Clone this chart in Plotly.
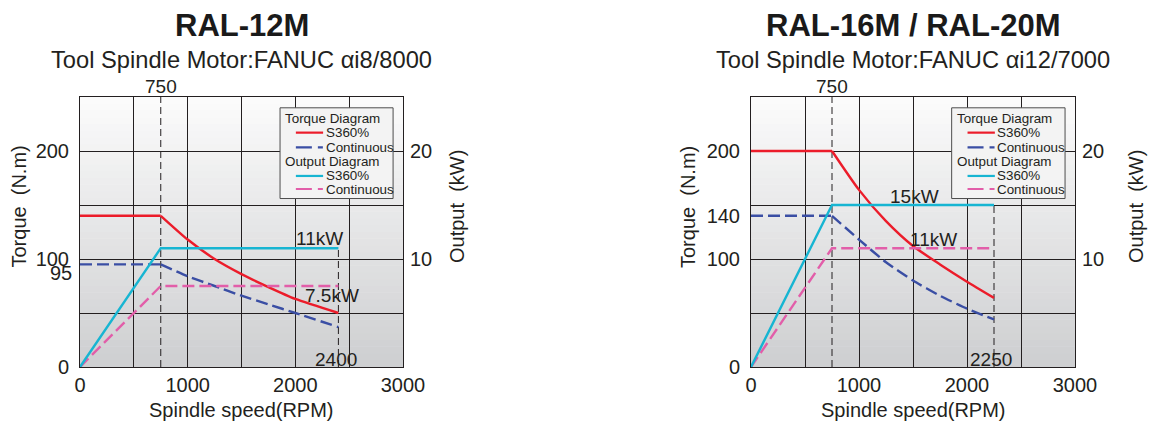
import plotly.graph_objects as go

# ---------------- data ----------------
# RAL-12M  (FANUC ai8/8000)
l_rpm_torque = [0, 750, 1000, 1250, 1500, 1750, 2000, 2400]
l_torque_s3 = [140, 140, 118, 100, 86, 74, 63, 50]
l_torque_cont = [95, 95, 84, 75, 66, 58, 50, 37]
l_rpm_out = [0, 750, 2400]
l_out_s3 = [0, 11, 11]
l_out_cont = [0, 7.5, 7.5]

# RAL-16M / RAL-20M  (FANUC ai12/7000)
r_rpm_torque = [0, 750, 1000, 1250, 1500, 1750, 2000, 2250]
r_torque_s3 = [200, 200, 164, 135, 112, 95, 79, 64]
r_torque_cont = [140, 140, 118, 97, 80, 66, 54, 44]
r_rpm_out = [0, 750, 2250]
r_out_s3 = [0, 15, 15]
r_out_cont = [0, 11, 11]

x_ticks = [0, 1000, 2000, 3000]
l_y_ticks = [0, 100, 200]
r_y_ticks = [0, 100, 140, 200]
kw_ticks = [10, 20]

titles = ["RAL-12M", "RAL-16M / RAL-20M"]
subtitles = ["Tool Spindle Motor:FANUC \u03b1i8/8000", "Tool Spindle Motor:FANUC \u03b1i12/7000"]

# ---------------- style ----------------
W, H = 1151, 423
FONT = "Arial, Liberation Sans, Helvetica, sans-serif"
TXT = "#231f20"
RED = "#ec1c2a"
BLUE = "#3a4ea4"
CYAN = "#17b5d2"
PINK = "#e25ea9"
GRID = "#231f20"
LW = 2.4
DASH = "12px,5px"
SMOOTH = 0.6

def fx(p):
    return p / W

def fy(p):
    return 1 - p / H

ydom = [fy(367), fy(97)]
xdom_l = [fx(80), fx(403)]
xdom_r = [fx(751), fx(1075)]

fig = go.Figure()

def add_chart(xa, ya, ya2, rpm_t, t_s3, t_cont, rpm_o, o_s3, o_cont):
    fig.add_trace(go.Scatter(x=rpm_t[:2], y=t_s3[:2], mode="lines", xaxis=xa, yaxis=ya,
                             line=dict(color=RED, width=LW), showlegend=False, hoverinfo="skip"))
    fig.add_trace(go.Scatter(x=rpm_t[1:], y=t_s3[1:], mode="lines", xaxis=xa, yaxis=ya,
                             line=dict(color=RED, width=LW, shape="spline", smoothing=SMOOTH),
                             showlegend=False, hoverinfo="skip"))
    fig.add_trace(go.Scatter(x=rpm_t[:2], y=t_cont[:2], mode="lines", xaxis=xa, yaxis=ya,
                             line=dict(color=BLUE, width=LW, dash=DASH), showlegend=False, hoverinfo="skip"))
    fig.add_trace(go.Scatter(x=rpm_t[1:], y=t_cont[1:], mode="lines", xaxis=xa, yaxis=ya,
                             line=dict(color=BLUE, width=LW, dash=DASH, shape="spline", smoothing=SMOOTH),
                             showlegend=False, hoverinfo="skip"))
    fig.add_trace(go.Scatter(x=rpm_o, y=o_cont, mode="lines", xaxis=xa, yaxis=ya2,
                             line=dict(color=PINK, width=LW, dash=DASH), showlegend=False, hoverinfo="skip"))
    fig.add_trace(go.Scatter(x=rpm_o, y=o_s3, mode="lines", xaxis=xa, yaxis=ya2,
                             line=dict(color=CYAN, width=LW), showlegend=False, hoverinfo="skip"))

add_chart("x", "y", "y2", l_rpm_torque, l_torque_s3, l_torque_cont, l_rpm_out, l_out_s3, l_out_cont)
add_chart("x2", "y3", "y4", r_rpm_torque, r_torque_s3, r_torque_cont, r_rpm_out, r_out_s3, r_out_cont)

axis_font = dict(family=FONT, size=20, color=TXT)

def xaxis_cfg(dom, anchor):
    return dict(domain=dom, anchor=anchor, range=[0, 3000], tickvals=x_ticks,
                showgrid=True, gridcolor=GRID, gridwidth=1,
                minor=dict(dtick=500, tick0=0, showgrid=True, gridcolor=GRID, gridwidth=1),
                zeroline=False, showline=True, mirror=True, linecolor=GRID, linewidth=1,
                ticks="", tickfont=axis_font, automargin=False, fixedrange=True)

def yaxis_cfg(anchor, tickvals):
    return dict(domain=ydom, anchor=anchor, range=[0, 250], tickvals=tickvals,
                showgrid=False, zeroline=False, showline=True, mirror=True,
                linecolor=GRID, linewidth=1, ticks="", tickfont=axis_font,
                ticklabelstandoff=6, automargin=False, fixedrange=True)

def kwaxis_cfg(over, anchor):
    return dict(overlaying=over, anchor=anchor, side="right", range=[0, 25], tickvals=kw_ticks,
                showgrid=True, gridcolor=GRID, gridwidth=1,
                minor=dict(dtick=5, tick0=0, showgrid=True, gridcolor=GRID, gridwidth=1),
                zeroline=False, showline=False, ticks="", tickfont=axis_font,
                ticklabelstandoff=6, automargin=False, fixedrange=True)

shapes = []
annotations = []

# gradient background bands
N = 40
top_c = (251, 251, 251)
bot_c = (206, 207, 209)
for xd, yd in (("x domain", "y domain"), ("x2 domain", "y3 domain")):
    for i in range(N):
        t = i / (N - 1)
        c = tuple(round(bot_c[k] + (top_c[k] - bot_c[k]) * t) for k in range(3))
        shapes.append(dict(type="rect", xref=xd, yref=yd, x0=0, x1=1,
                           y0=i / N, y1=(i + 1) / N + 0.002, layer="below",
                           line=dict(width=0), fillcolor="rgb(%d,%d,%d)" % c))

def chart_decor(xa, ya, ya2, rpm_o, o_s3, cx, title, subtitle, labels, edge_label):
    shapes.append(dict(type="line", xref=xa, yref=ya, x0=rpm_o[1], x1=rpm_o[1], y0=0, y1=250,
                       layer="below", line=dict(color=TXT, width=1, dash="7px,4px")))
    shapes.append(dict(type="line", xref=xa, yref=ya2, x0=rpm_o[-1], x1=rpm_o[-1], y0=0, y1=o_s3[-1],
                       layer="below", line=dict(color=TXT, width=1, dash="7px,4px")))
    shapes.append(dict(type="rect", xref=xa, yref=ya, x0=1858, x1=2908, y0=156, y1=240,
                       layer="above", line=dict(color="#4d4d4d", width=1), fillcolor="#f3f3f3"))
    items = [(230.3, "Torque Diagram", None, None),
             (217.0, "S360%", RED, "solid"),
             (203.4, "Continuous", BLUE, "16px,6px,5px"),
             (190.1, "Output Diagram", None, None),
             (176.9, "S360%", CYAN, "solid"),
             (164.8, "Continuous", PINK, "16px,6px,5px")]
    for yv, txt, col, dash in items:
        if col is None:
            annotations.append(dict(xref=xa, yref=ya, x=1885, y=yv, text=txt, showarrow=False,
                                    xanchor="left", yanchor="middle",
                                    font=dict(family=FONT, size=13.4, color=TXT)))
        else:
            shapes.append(dict(type="line", xref=xa, yref=ya, x0=2005, x1=2258, y0=yv, y1=yv,
                               layer="above", line=dict(color=col, width=2.2, dash=dash)))
            annotations.append(dict(xref=xa, yref=ya, x=2262, y=yv, text=txt, showarrow=False,
                                    xanchor="left", yanchor="middle",
                                    font=dict(family=FONT, size=13.4, color=TXT)))
    for txt, xv, yv in labels:
        annotations.append(dict(xref=xa, yref=ya, x=xv, y=yv, text=txt, showarrow=False,
                                xanchor="center", yanchor="middle",
                                font=dict(family=FONT, size=19, color=TXT)))
    annotations.append(dict(xref=xa, yref="paper", x=rpm_o[1], y=fy(87), text=str(rpm_o[1]),
                            showarrow=False, xanchor="center", yanchor="middle",
                            font=dict(family=FONT, size=19, color=TXT)))
    annotations.append(dict(xref=xa, yref=ya, x=edge_label[1], y=edge_label[2], text=edge_label[0],
                            showarrow=False, xanchor="center", yanchor="middle",
                            font=dict(family=FONT, size=19, color=TXT)))
    annotations.append(dict(xref="paper", yref="paper", x=fx(cx), y=fy(26), text="<b>%s</b>" % title,
                            showarrow=False, xanchor="center", yanchor="middle",
                            font=dict(family=FONT, size=31, color="#1a1a1a")))
    annotations.append(dict(xref="paper", yref="paper", x=fx(cx), y=fy(60), text=subtitle,
                            showarrow=False, xanchor="center", yanchor="middle",
                            font=dict(family=FONT, size=23.7, color=TXT)))
    annotations.append(dict(xref="paper", yref="paper", x=fx(cx), y=fy(410), text="Spindle speed(RPM)",
                            showarrow=False, xanchor="center", yanchor="middle",
                            font=dict(family=FONT, size=20, color=TXT)))

chart_decor("x", "y", "y2", l_rpm_out, l_out_s3, 241.5, titles[0], subtitles[0],
            [("11kW", 2220, 119), ("7.5kW", 2345, 66)], ("2400", 2375, 7.4))
chart_decor("x2", "y3", "y4", r_rpm_out, r_out_s3, 913, titles[1], subtitles[1],
            [("15kW", 1512, 158), ("11kW", 1688, 118.5)], ("2250", 2223, 7.4))

for xc, txt in ((18.5, "Torque\u00a0\u00a0(N.m)"), (457, "Output\u00a0\u00a0(kW)"),
                (688, "Torque\u00a0\u00a0(N.m)"), (1136, "Output\u00a0\u00a0(kW)")):
    annotations.append(dict(xref="paper", yref="paper", x=fx(xc), y=fy(207), text=txt,
                            textangle=-90, showarrow=False, xanchor="center", yanchor="middle",
                            font=dict(family=FONT, size=20, color=TXT)))

annotations.append(dict(xref="paper", yref="y", x=fx(73.5), y=87, text="95", showarrow=False,
                        xanchor="right", yanchor="middle",
                        font=dict(family=FONT, size=20, color=TXT)))

fig.update_layout(
    width=W, height=H,
    margin=dict(l=0, r=0, t=0, b=0, pad=0),
    paper_bgcolor="white", plot_bgcolor="white",
    showlegend=False,
    font=dict(family=FONT, color=TXT),
    xaxis=xaxis_cfg(xdom_l, "y"),
    yaxis=yaxis_cfg("x", l_y_ticks),
    yaxis2=kwaxis_cfg("y", "x"),
    xaxis2=xaxis_cfg(xdom_r, "y3"),
    yaxis3=yaxis_cfg("x2", r_y_ticks),
    yaxis4=kwaxis_cfg("y3", "x2"),
    shapes=shapes,
    annotations=annotations,
)

fig.write_html("out.html", config={"displayModeBar": False},
               post_script="document.body.style.margin='0';document.body.style.padding='0';"
                           "document.body.style.overflow='hidden';")
